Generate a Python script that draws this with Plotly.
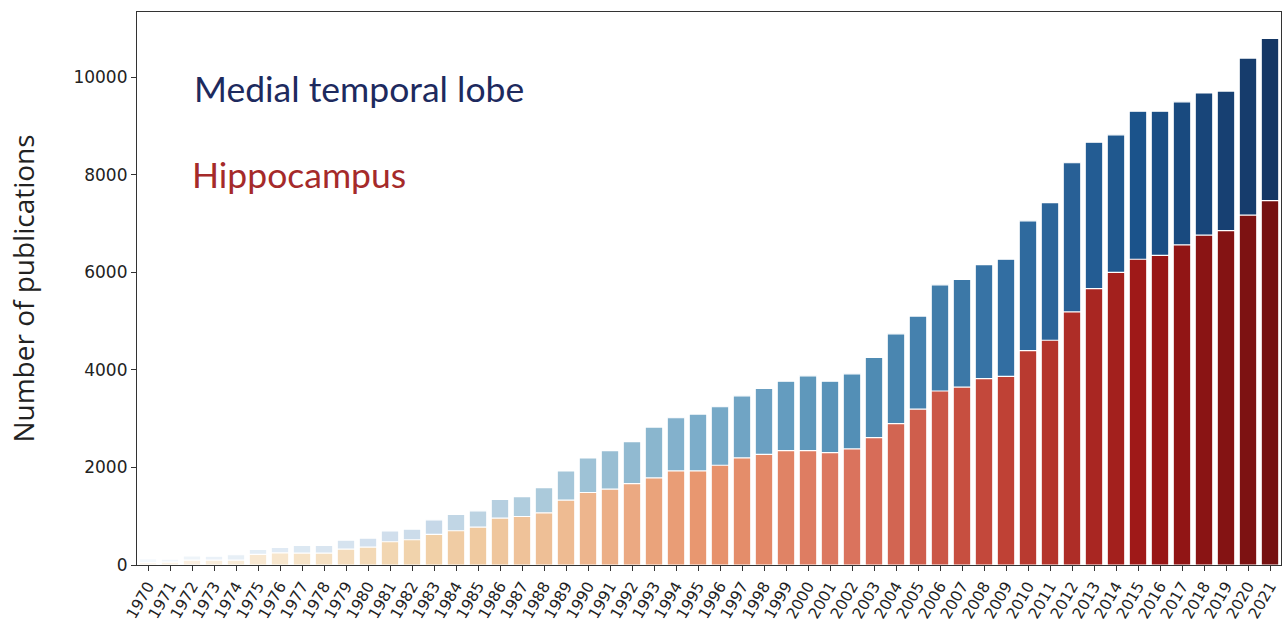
import colorsys
import numpy as np
import plotly.graph_objects as go
from plotly.colors import sample_colorscale, unlabel_rgb

years = [str(y) for y in range(1970, 2022)]

medial_temporal_lobe = [
    130, 120, 185, 180, 210, 320, 360, 400, 400, 510,
    552, 700, 736, 927, 1036, 1111, 1343, 1404, 1588, 1929,
    2195, 2345, 2530, 2828, 3020, 3094, 3245, 3470, 3620, 3770,
    3880, 3770, 3920, 4255, 4740, 5105, 5746, 5857, 6159, 6270,
    7057, 7430, 8249, 8670, 8821, 9306, 9306, 9497, 9680, 9719,
    10395, 10800,
]

hippocampus = [
    50, 60, 100, 100, 100, 218, 250, 245, 245, 327,
    368, 477, 518, 627, 702, 777, 961, 995, 1070, 1330,
    1487, 1554, 1670, 1786, 1929, 1929, 2045, 2195, 2270, 2345,
    2345, 2305, 2380, 2610, 2900, 3195, 3568, 3648, 3823, 3870,
    4395, 4609, 5189, 5666, 6000, 6270, 6350, 6564, 6763, 6858,
    7176, 7470,
]

y_ticks = [0, 2000, 4000, 6000, 8000, 10000]

BLUES = ["#f7fbff", "#deebf7", "#c6dbef", "#9ecae1", "#6baed6",
         "#4292c6", "#2171b5", "#08519c", "#08306b"]
ORRD = ["#fff7ec", "#fee8c8", "#fdd49e", "#fdbb84", "#fc8d59",
        "#ef6548", "#d7301f", "#b30000", "#7f0000"]


def palette(stops, n, sat=0.75):
    scale = [[i / (len(stops) - 1), c] for i, c in enumerate(stops)]
    pos = list(np.linspace(0, 1, n + 2)[1:-1])
    out = []
    for c in sample_colorscale(scale, pos):
        r, g, b = [v / 255 for v in unlabel_rgb(c)]
        h, l, s = colorsys.rgb_to_hls(r, g, b)
        r, g, b = colorsys.hls_to_rgb(h, l, s * sat)
        out.append("rgb(%d,%d,%d)" % (round(r * 255), round(g * 255), round(b * 255)))
    return out


n = len(years)
blue_cols = palette(BLUES, n)
red_cols = palette(ORRD, n)

fig = go.Figure()
fig.add_trace(go.Bar(x=years, y=medial_temporal_lobe, name="Medial temporal lobe",
                     marker=dict(color=blue_cols, line=dict(color="white", width=1.2))))
fig.add_trace(go.Bar(x=years, y=hippocampus, name="Hippocampus",
                     marker=dict(color=red_cols, line=dict(color="white", width=1.2))))

fig.update_layout(
    width=1285, height=628,
    margin=dict(l=137, r=4, t=12, b=63, autoexpand=False),
    barmode="overlay", bargap=0.2,
    plot_bgcolor="white", paper_bgcolor="white",
    showlegend=False,
    font=dict(family="DejaVu Sans", color="#222"),
)
fig.update_xaxes(
    type="category", range=[-0.5, n - 0.5], automargin=False,
    showline=True, mirror=True, linecolor="#333", linewidth=1.2,
    ticks="outside", ticklen=5, tickcolor="#333",
    tickangle=-60, tickfont=dict(size=15.5, family="DejaVu Sans", color="#222"),
    showgrid=False,
)
fig.update_yaxes(
    range=[0, 11340], tickvals=y_ticks, ticktext=[str(v) for v in y_ticks],
    automargin=False,
    showline=True, mirror=True, linecolor="#333", linewidth=1.2,
    ticks="outside", ticklen=5, tickcolor="#333",
    tickfont=dict(size=17, family="DejaVu Sans", color="#222"),
    showgrid=False, zeroline=False,
    title=dict(text="Number of publications", font=dict(size=28, family="Open Sans", color="#222"),
               standoff=30),
)

fig.add_annotation(text="Medial temporal lobe", xref="paper", yref="paper",
                   x=(192 - 137) / 1144, y=(565 - 89) / 553, xanchor="left", yanchor="middle",
                   showarrow=False, font=dict(family="Lato", size=35.5, color="#1d2a5e"))
fig.add_annotation(text="Hippocampus", xref="paper", yref="paper",
                   x=(190 - 137) / 1144, y=(565 - 174) / 553, xanchor="left", yanchor="middle",
                   showarrow=False, font=dict(family="Lato", size=35.5, color="#a52a2a"))

fig.write_html("out.html", config={"displayModeBar": False},
               post_script="document.body.style.margin='0';")
